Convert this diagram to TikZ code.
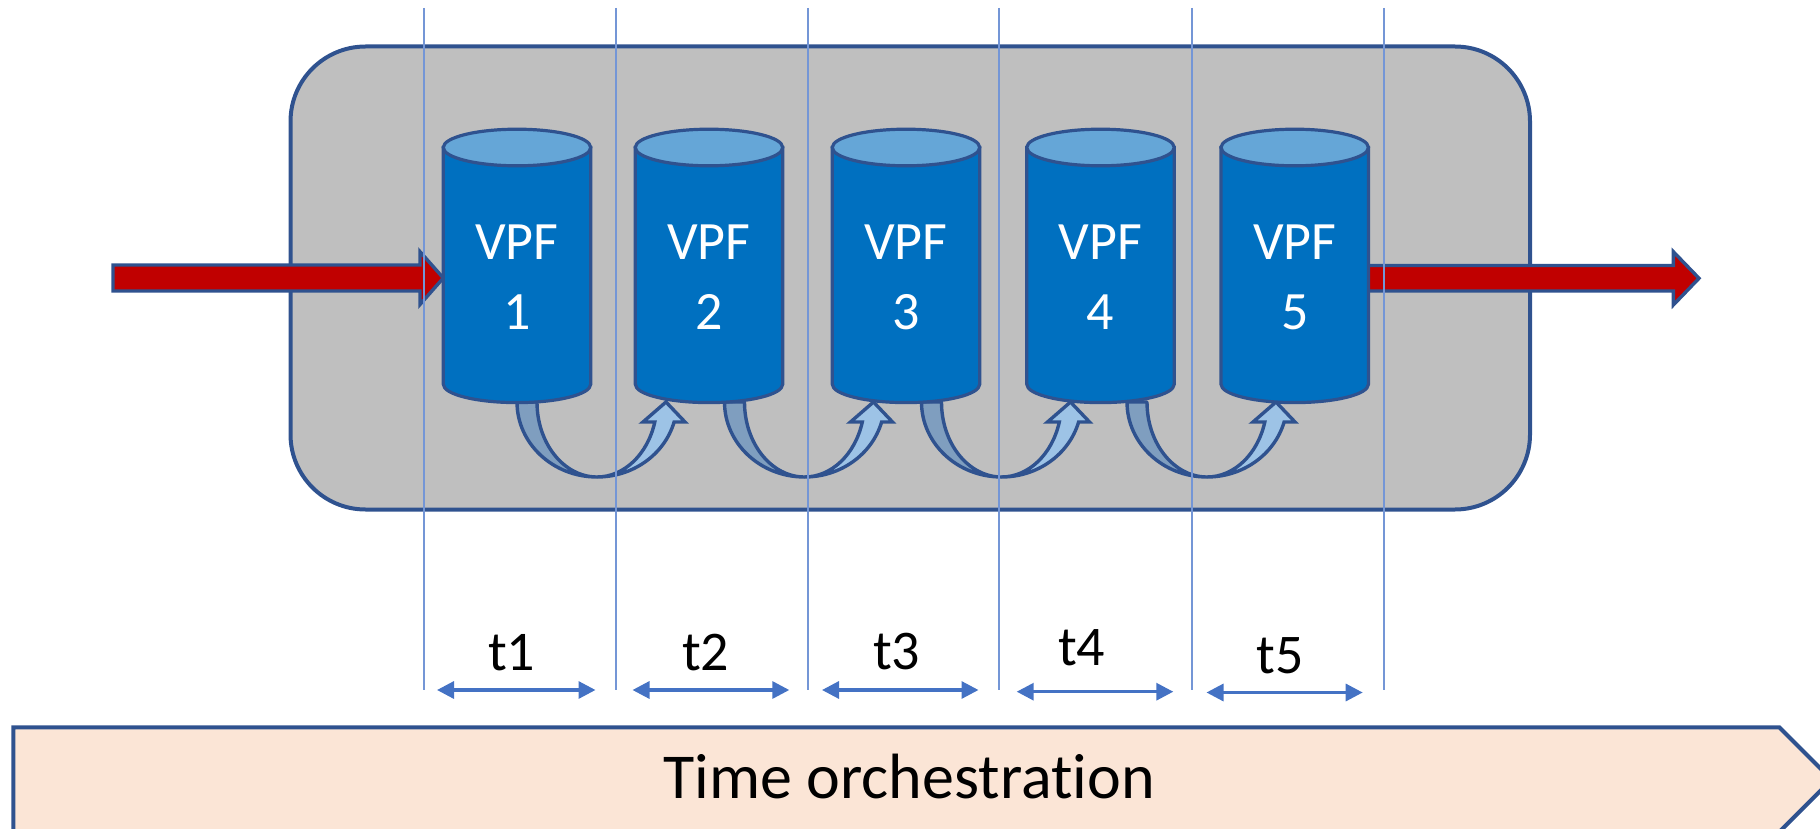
\documentclass[tikz,border=0pt]{standalone}
\usepackage{fontspec}
\setmainfont{Carlito}[RawFeature={-liga,-clig,-calt,-dlig}]
\usetikzlibrary{arrows.meta}
\definecolor{cedge}{HTML}{2F528F}
\definecolor{cpanel}{HTML}{BFBFBF}
\definecolor{cbody}{HTML}{0070C0}
\definecolor{ctop}{HTML}{65A6D7}
\definecolor{cflow}{HTML}{C00000}
\definecolor{cguide}{HTML}{7496D6}
\definecolor{cspan}{HTML}{4472C4}
\definecolor{cback}{HTML}{7F9EBF}
\definecolor{cfront}{HTML}{9DC3E6}
\definecolor{cbanner}{HTML}{FBE5D6}
\begin{document}
\begin{tikzpicture}[x=1pt,y=-1pt,
  panelbox/.style={draw=cedge,fill=cpanel,line width=4pt,rounded corners=75pt},
  flowarrow/.style={draw=cedge,fill=cflow,line width=3.4pt,line join=miter},
  cylside/.style={draw=cedge,fill=cbody,line width=3.2pt},
  cyllid/.style={draw=cedge,fill=ctop,line width=3.2pt},
  backarc/.style={draw=cedge,fill=cback,line width=3.4pt,line join=round},
  frontarc/.style={draw=cedge,fill=cfront,line width=3.4pt,line join=miter},
  guide/.style={draw=cguide,line width=2pt},
  spanarrow/.style={draw=cspan,line width=3.2pt,{Triangle[length=17pt,width=17pt]}-{Triangle[length=17pt,width=17pt]}},
  bannerbox/.style={draw=cedge,fill=cbanner,line width=4pt},
  vpftext/.style={text=white,anchor=base,inner sep=0pt,font=\fontsize{54}{60}\selectfont},
  tlabel/.style={text=black,anchor=base,inner sep=0pt,font=\fontsize{56}{62}\selectfont},
  bannertext/.style={text=black,anchor=base,inner sep=0pt,font=\fontsize{64}{70}\selectfont}
]
\useasboundingbox (0,0) rectangle (1820,829);
\clip (0,0) rectangle (1820,829);

% grey processing panel
\draw[panelbox] (290.5,46.5) rectangle (1530,509.5);

% input and output flows
\coordinate (inStart) at (113,278);
\coordinate (outTip) at (1699,278.3);
\draw[flowarrow] (inStart) ++(0,-13) -- (420,265) -- (420,251.7) -- (443.3,278) -- (420,304.5) -- (420,291) -- (113,291) -- cycle;
\draw[flowarrow] (1360,265.5) -- (1673.3,265.5) -- (1673.3,251.7) -- (outTip) -- (1673.3,305) -- (1673.3,291) -- (1360,291) -- cycle;

% hand-over arrows between consecutive functions
\foreach \cx in {597,804.5,1001.5,1207} {
  \draw[backarc] ({\cx-80},402) arc[start angle=180,end angle=90,x radius=80,y radius=75]
     arc[start angle=90,end angle=180,x radius=60,y radius=75] -- cycle;
  \draw[frontarc] (\cx,477) arc[start angle=90,end angle=15.47,x radius=80,y radius=75]
     -- ({\cx+88},422) -- ({\cx+69},402) -- ({\cx+46},422) -- ({\cx+57.8},422)
     arc[start angle=15.47,end angle=90,x radius=60,y radius=75] -- cycle;
}

% the five VPF cylinders
\foreach \i/\cx in {1/517,2/709,3/906,4/1100.5,5/1294.7} {
  \draw[cylside] ({\cx-73.7},147.5) -- ({\cx-73.7},384.3)
     arc[start angle=180,end angle=0,x radius=73.7,y radius=18.3]
     -- ({\cx+73.7},147.5) -- cycle;
  \draw[cyllid] (\cx,147.5) ellipse [x radius=73.7,y radius=18.3];
  \node[vpftext] (vpf\i) at (\cx,259.3) {VPF};
  \node[vpftext] (num\i) at (\cx,329) {\i};
}

% time slot boundaries
\foreach \x in {424,615.7,807.5,999,1192,1383.5}
  \draw[guide] (\x,8) -- (\x,690);

% time slots
\foreach \i/\a/\b/\y/\lx/\ly in {1/437/595.5/690/511.7/670.7,
                                 2/632.5/789.3/690/705.8/670,
                                 3/822/978.5/690/896.6/669.7,
                                 4/1016.7/1173.3/691.7/1081.7/665,
                                 5/1206.5/1362.7/692.5/1280/673.3} {
  \coordinate (s\i a) at (\a,\y);
  \coordinate (s\i b) at (\b,\y);
  \draw[spanarrow] (s\i a) -- (s\i b);
  \node[tlabel] (t\i) at (\lx,\ly) {t\i};
}

% orchestration banner
\draw[bannerbox] (13.3,727.3) -- (1779.3,727.3) -- (1831.6,779.6) -- (1779.3,832) -- (13.3,832) -- cycle;
\node[bannertext] (orch) at (909,798.6) {Time orchestrat\kern0pt ion};
\end{tikzpicture}
\end{document}
